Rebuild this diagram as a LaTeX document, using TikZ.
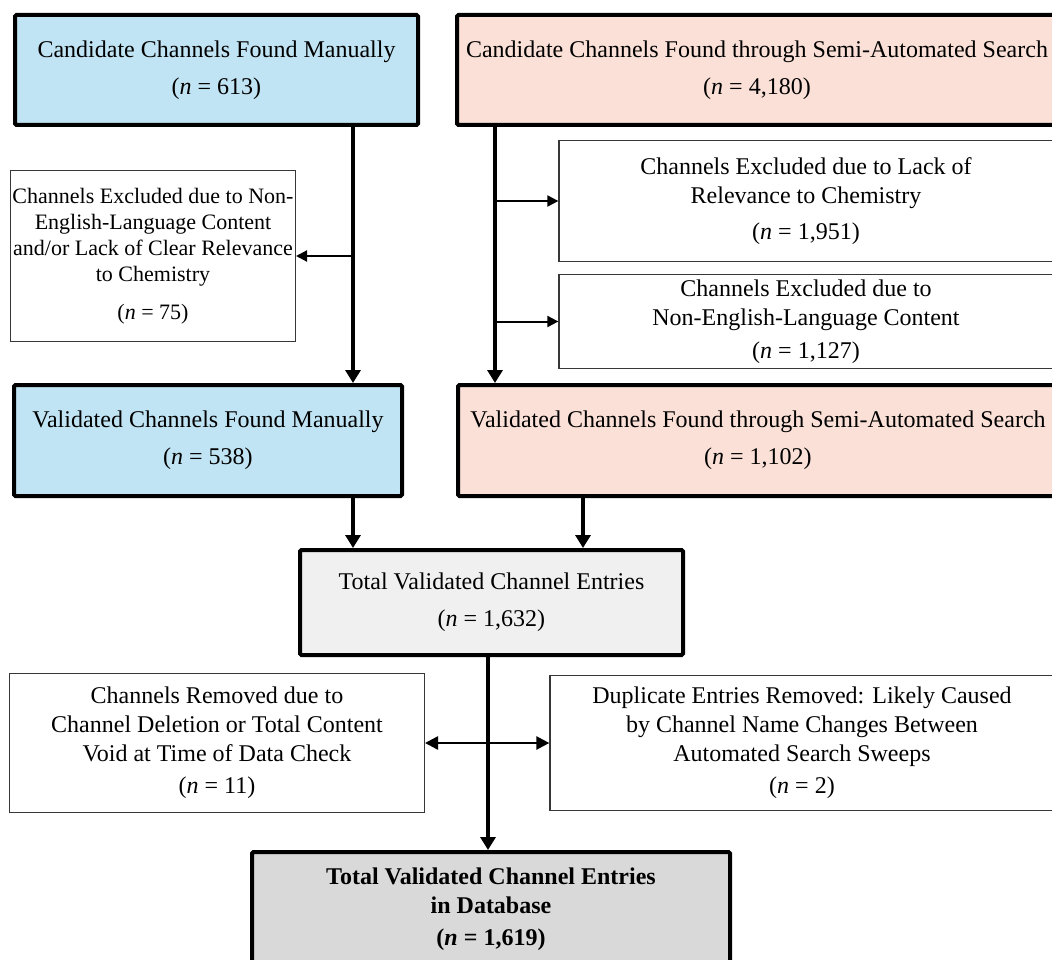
\documentclass[tikz,border=0pt]{standalone}
\usepackage{fontspec}
\setmainfont{Liberation Serif}
\usetikzlibrary{arrows.meta}
\definecolor{boxblue}{RGB}{192,228,243}
\definecolor{boxsalmon}{RGB}{250,224,214}
\definecolor{boxgray}{RGB}{240,240,240}
\definecolor{boxdark}{RGB}{217,217,217}
\definecolor{thinedge}{RGB}{55,55,55}
\newcommand\fsmain{\fontsize{24}{29}\selectfont}
\newcommand\fssmall{\fontsize{22}{26}\selectfont}
\newcommand\nval[1]{(\textit{n} = #1)}
\begin{document}
\begin{tikzpicture}[x=1pt,y=-1pt,
  bigbox/.style={draw=black, line width=4pt, rounded corners=1.5pt, inner sep=0pt, align=center, font=\fsmain},
  smallbox/.style={draw=thinedge, line width=1.3pt, fill=white, inner sep=0pt, align=center, font=\fsmain},
  mainline/.style={line width=4pt, -{Triangle[width=15pt,length=13pt]}},
  sidearrow/.style={line width=2pt, -{Triangle[width=11pt,length=11pt]}},
  dblarrow/.style={line width=2.5pt, {Triangle[width=13pt,length=13pt]}-{Triangle[width=13pt,length=13pt]}}]
\useasboundingbox (0,0) rectangle (1052,960);
\fill[white] (0,0) rectangle (1052,960);
\clip (0,0) rectangle (1052,960);

% top row
\node[bigbox, fill=boxblue, minimum width=403pt, minimum height=110pt] (A1) at (216.5,70)
  {Candidate Channels Found Manually\\[8pt]\nval{613}};
\node[bigbox, fill=boxsalmon, minimum width=600pt, minimum height=110pt] (B1) at (757,70)
  {Candidate Channels Found through Semi-Automated Search\\[8pt]\nval{4,180}};

% exclusion boxes
\node[smallbox, font=\fssmall, minimum width=284.7pt, minimum height=170.7pt] (C) at (153,256)
  {Channels Excluded due to Non-\\English-Language Content\\and/or Lack of Clear Relevance\\to Chemistry\\[12pt]\nval{75}};
\node[smallbox, minimum width=494pt, minimum height=120.7pt] (D1) at (806,201)
  {Channels Excluded due to Lack of\\Relevance to Chemistry\\[7pt]\nval{1,951}};
\node[smallbox, minimum width=494pt, minimum height=93.7pt] (D2) at (806,321.5)
  {Channels Excluded due to\\Non-English-Language Content\\[4pt]\nval{1,127}};

% validated row
\node[bigbox, fill=boxblue, minimum width=388pt, minimum height=111pt] (E) at (208,440.5)
  {Validated Channels Found Manually\\[8pt]\nval{538}};
\node[bigbox, fill=boxsalmon, minimum width=600pt, minimum height=111pt] (F) at (758,440.5)
  {Validated Channels Found through Semi-Automated Search\\[8pt]\nval{1,102}};

% total
\node[bigbox, fill=boxgray, minimum width=383pt, minimum height=105pt] (G) at (491.5,602.5)
  {Total Validated Channel Entries\\[8pt]\nval{1,632}};

% removed boxes
\node[smallbox, minimum width=414.7pt, minimum height=138.7pt] (H) at (217,743)
  {Channels Removed due to\\Channel Deletion or Total Content\\Void at Time of Data Check\\[3pt]\nval{11}};
\node[smallbox, minimum width=504pt, minimum height=134.7pt] (I) at (802,743)
  {Duplicate Entries Removed: Likely Caused\\by Channel Name Changes Between\\Automated Search Sweeps\\[3pt]\nval{2}};

% final
\node[bigbox, fill=boxdark, minimum width=478pt, minimum height=115pt] (J) at (491,909.5)
  {\bfseries Total Validated Channel Entries\\\bfseries in Database\\[3pt]\bfseries(\textit{n} = 1,619)};

% column coordinates
\coordinate (xL) at (353,0);
\coordinate (xR) at (495,0);
\coordinate (xM) at (583,0);
\coordinate (xC) at (488,0);

% connectors
\draw[mainline] (A1.south -| xL) -- (E.north -| xL);
\draw[mainline] (B1.south -| xR) -- (F.north -| xR);
\draw[sidearrow] (C.east -| xL) -- (C.east);
\draw[sidearrow] (D1.west -| xR) -- (D1.west);
\draw[sidearrow] (D2.west -| xR) -- (D2.west);
\draw[mainline] (E.south -| xL) -- (G.north -| xL);
\draw[mainline] (F.south -| xM) -- (G.north -| xM);
\draw[mainline] (G.south -| xC) -- (J.north -| xC);
\draw[dblarrow] (H.east) -- (I.west);
\end{tikzpicture}
\end{document}
